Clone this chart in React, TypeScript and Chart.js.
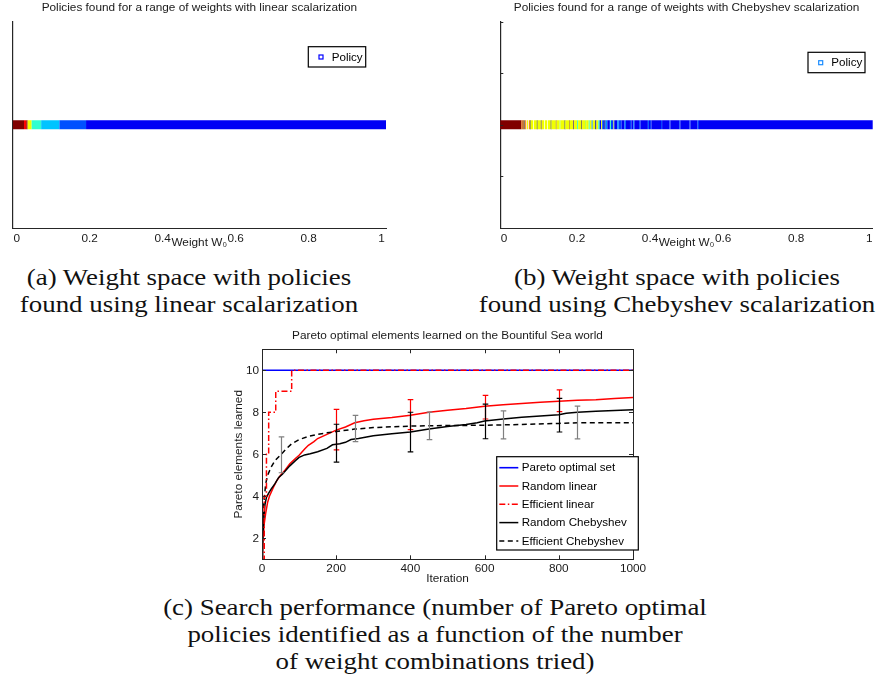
import React, { useEffect, useRef } from 'react';
import { Chart, registerables } from 'chart.js';

Chart.register(...registerables);

const SANS = '"Liberation Sans", Arial, Helvetica, sans-serif';
const SERIF = '"Liberation Serif", "Times New Roman", serif';
const AXIS = '#262626';
const TEXT = '#1a1a1a';
const FS = 11.8;

// ---------- (a) linear scalarization: policy bands along W0 ----------
const linearStarts = [-0.011, 0.02, 0.026, 0.03, 0.041, 0.067, 0.117, 0.19];
const linearEnd = 1.012;
const linearColors = ['#800000', '#ff0000', '#a00000', '#f0ff00', '#30ffd0', '#00c4ff', '#0050ff', '#0000f5'];

// ---------- (b) Chebyshev scalarization: policy bands along W0 ----------
const chebStarts = [
  -0.011, 0.048, 0.051, 0.054, 0.056, 0.058, 0.061, 0.063, 0.066, 0.068,
  0.071, 0.073, 0.08, 0.082, 0.09, 0.092, 0.101, 0.103, 0.11, 0.112,
  0.118, 0.12, 0.128, 0.13, 0.142, 0.144, 0.152, 0.155, 0.166, 0.168,
  0.178, 0.18, 0.19, 0.192, 0.2, 0.203, 0.212, 0.214, 0.222, 0.225,
  0.232, 0.235, 0.24, 0.243, 0.25, 0.253, 0.258, 0.262, 0.266, 0.269,
  0.275, 0.278, 0.283, 0.29, 0.293, 0.3, 0.302, 0.31, 0.314, 0.322,
  0.33, 0.334, 0.345, 0.349, 0.354, 0.357, 0.37, 0.374, 0.394, 0.397,
  0.4, 0.404, 0.43, 0.433, 0.453, 0.456, 0.48, 0.483, 0.508, 0.511,
  0.53, 0.534,
];
const chebEnd = 1.01;
const chebColors = [
  '#800000', '#ff8c00', '#800000', '#f0ff00', '#3c0a50', '#ff8c00', '#9a5a10', '#f0ff00', '#3c0a50', '#ff8c00',
  '#2a2a2a', '#f0ff00', '#9a5a10', '#f0ff00', '#2a2a2a', '#f0ff00', '#3c0a50', '#f0ff00', '#9a5a10', '#f0ff00',
  '#b4ff40', '#f0ff00', '#2a2a2a', '#f0ff00', '#9a5a10', '#f0ff00', '#b4ff40', '#f0ff00', '#2a2a2a', '#f0ff00',
  '#9a5a10', '#f0ff00', '#3c0a50', '#f0ff00', '#40ffc0', '#f0ff00', '#2a2a2a', '#f0ff00', '#b4ff40', '#f0ff00',
  '#40ffc0', '#f0ff00', '#0090ff', '#f0ff00', '#00008c', '#f0ff00', '#40ffc0', '#0000f5', '#f0ff00', '#0040ff',
  '#00008c', '#0090ff', '#0000f5', '#40ffc0', '#0040ff', '#f0ff00', '#0000f5', '#0090ff', '#0040ff', '#0000f5',
  '#0070ff', '#0000f5', '#0040ff', '#0000f5', '#0080ff', '#0000f5', '#0040ff', '#0000f5', '#0060ff', '#0000f5',
  '#0030ff', '#0000f5', '#0040ff', '#0000f5', '#0030ff', '#0000f5', '#0040ff', '#0000f5', '#0030ff', '#0000f5',
  '#0040ff', '#0000f5',
];

const weightTicks = [0, 0.2, 0.4, 0.6, 0.8, 1];
const bandYTicks = [-1, -0.5, 0, 0.5, 1];

// ---------- (c) search performance ----------
const iterTicks = [0, 200, 400, 600, 800, 1000];
const elemTicks = [2, 4, 6, 8, 10];

const paretoX = [0, 1000];
const paretoY = [10, 10];

const randLinX = [0, 3, 6, 10, 15, 20, 30, 40, 50, 60, 75, 90, 100, 115, 125, 140, 150, 175, 200, 225, 250, 275, 300, 350, 400, 450, 500, 550, 600, 650, 700, 750, 800, 850, 900, 950, 1000];
const randLinY = [1, 2, 2.7, 3.2, 3.7, 4.0, 4.4, 4.75, 5.0, 5.2, 5.55, 5.8, 5.95, 6.25, 6.43, 6.6, 6.75, 6.95, 7.15, 7.3, 7.5, 7.6, 7.67, 7.75, 7.86, 8.0, 8.1, 8.18, 8.29, 8.36, 8.42, 8.48, 8.53, 8.57, 8.6, 8.65, 8.7];

const effLinX = [0, 6, 12, 18, 37, 80, 1000];
const effLinY = [1, 4, 6, 8, 9, 10, 10];

const randChebX = [0, 2, 5, 8, 12, 18, 25, 35, 45, 55, 65, 75, 90, 100, 115, 130, 150, 175, 190, 210, 225, 240, 260, 300, 350, 400, 450, 500, 550, 580, 600, 650, 700, 750, 800, 820, 850, 900, 950, 1000];
const randChebY = [1, 2, 3, 3.6, 3.95, 4.15, 4.35, 4.6, 4.9, 5.05, 5.25, 5.45, 5.7, 5.85, 5.97, 6.03, 6.12, 6.28, 6.45, 6.5, 6.57, 6.7, 6.75, 6.88, 6.98, 7.06, 7.2, 7.32, 7.42, 7.5, 7.58, 7.68, 7.76, 7.82, 7.88, 7.95, 8.0, 8.05, 8.08, 8.12];

const effChebX = [0, 2, 5, 10, 15, 25, 35, 50, 65, 80, 100, 125, 150, 175, 200, 250, 300, 350, 400, 450, 500, 600, 700, 800, 850, 1000];
const effChebY = [1, 2.5, 3.7, 4.6, 5.0, 5.4, 5.7, 5.97, 6.25, 6.5, 6.7, 6.85, 6.95, 7.02, 7.08, 7.2, 7.27, 7.31, 7.34, 7.36, 7.37, 7.38, 7.42, 7.47, 7.5, 7.5];

const randLinErrX = [200, 400, 600, 800];
const randLinErrLow = [6.21, 7.17, 7.68, 8.03];
const randLinErrHigh = [8.14, 8.6, 8.8, 9.07];

const randChebErrX = [200, 400, 600, 800];
const randChebErrLow = [5.63, 6.11, 6.74, 7.06];
const randChebErrHigh = [7.43, 8.0, 8.39, 8.66];

const effChebErrX = [50, 250, 450, 650, 850];
const effChebErrLow = [5.12, 6.6, 6.7, 6.73, 6.73];
const effChebErrHigh = [6.83, 7.85, 8.01, 8.07, 8.29];

const captionA = ['(a) Weight space with policies', 'found using linear scalarization'];
const captionB = ['(b) Weight space with policies', 'found using Chebyshev scalarization'];
const captionC = [
  '(c) Search performance (number of Pareto optimal',
  'policies identified as a function of the number',
  'of weight combinations tried)',
];

const zip = (xs: number[], ys: number[]) => xs.map((x, i) => ({ x, y: ys[i] }));

// ---------- plugins ----------
const frameTicks = {
  id: 'frameTicks',
  afterDatasetsDraw(chart: any, _a: any, o: any) {
    if (!o || !o.enabled) return;
    const { ctx, chartArea: ca } = chart;
    ctx.save();
    ctx.strokeStyle = AXIS;
    ctx.lineWidth = 1;
    const len = o.length || 4;
    if (o.box) {
      ctx.strokeRect(Math.round(ca.left) + 0.5, Math.round(ca.top) + 0.5, Math.round(ca.right - ca.left), Math.round(ca.bottom - ca.top));
    }
    ctx.beginPath();
    if (o.xSides) {
      const sx = chart.scales.x;
      sx.ticks.forEach((t: any) => {
        const px = Math.round(sx.getPixelForValue(t.value)) + 0.5;
        if (o.xSides.includes('bottom')) { ctx.moveTo(px, ca.bottom); ctx.lineTo(px, ca.bottom - len); }
        if (o.xSides.includes('top')) { ctx.moveTo(px, ca.top); ctx.lineTo(px, ca.top + len); }
      });
    }
    if (o.ySides) {
      const sy = chart.scales.y;
      sy.ticks.forEach((t: any) => {
        const py = Math.round(sy.getPixelForValue(t.value)) + 0.5;
        if (o.ySides.includes('left')) { ctx.moveTo(ca.left, py); ctx.lineTo(ca.left + len, py); }
        if (o.ySides.includes('right')) { ctx.moveTo(ca.right, py); ctx.lineTo(ca.right - len, py); }
      });
    }
    ctx.stroke();
    ctx.restore();
  },
};

const errorBars = {
  id: 'errorBars',
  afterDatasetsDraw(chart: any) {
    const { ctx } = chart;
    const sx = chart.scales.x;
    const sy = chart.scales.y;
    chart.data.datasets.forEach((ds: any) => {
      const eb = ds.errorBars;
      if (!eb) return;
      ctx.save();
      ctx.strokeStyle = eb.color;
      ctx.lineWidth = 1.2;
      ctx.setLineDash([]);
      eb.x.forEach((xv: number, i: number) => {
        const px = Math.round(sx.getPixelForValue(xv)) + 0.5;
        const pl = sy.getPixelForValue(eb.low[i]);
        const ph = sy.getPixelForValue(eb.high[i]);
        const cap = 2.8;
        ctx.beginPath();
        ctx.moveTo(px, pl); ctx.lineTo(px, ph);
        ctx.moveTo(px - cap, pl); ctx.lineTo(px + cap, pl);
        ctx.moveTo(px - cap, ph); ctx.lineTo(px + cap, ph);
        ctx.stroke();
      });
      ctx.restore();
    });
  },
};

const boxLegend = {
  id: 'boxLegend',
  afterDraw(chart: any, _a: any, o: any) {
    if (!o || !o.box) return;
    const { ctx } = chart;
    const b = o.box;
    ctx.save();
    ctx.fillStyle = '#ffffff';
    ctx.fillRect(b.x, b.y, b.w, b.h);
    ctx.strokeStyle = '#000000';
    ctx.lineWidth = 1.2;
    ctx.setLineDash([]);
    ctx.strokeRect(b.x, b.y, b.w, b.h);
    ctx.font = `${o.fontSize}px ${SANS}`;
    ctx.textBaseline = 'middle';
    ctx.textAlign = 'left';
    const items = chart.data.datasets.filter((d: any) => d.label);
    items.forEach((d: any, i: number) => {
      const cy = b.y + o.firstRow + i * o.rowGap;
      if (o.marker === 'square') {
        ctx.strokeStyle = d.legendColor;
        ctx.lineWidth = 1.2;
        ctx.setLineDash([]);
        ctx.strokeRect(o.sampleX - 2, cy - 2, 4, 4);
      } else {
        ctx.strokeStyle = d.borderColor;
        ctx.lineWidth = d.borderWidth;
        ctx.setLineDash(d.borderDash || []);
        ctx.beginPath();
        ctx.moveTo(o.sampleX0, cy);
        ctx.lineTo(o.sampleX1, cy);
        ctx.stroke();
        ctx.setLineDash([]);
      }
      ctx.fillStyle = '#000000';
      ctx.fillText(d.label, o.textX, cy + 0.5);
    });
    ctx.restore();
  },
};

// ---------- configs ----------
function bandConfig(p: {
  title: string; starts: number[]; end: number; colors: string[]; legendColor: string;
  xMin: number; xMax: number; yWidth: number; padRight: number; showYTicks: boolean;
  legend: any;
}) {
  const edges = [...p.starts, p.end];
  const font = { family: SANS, size: FS, lineHeight: 1.2 };
  return {
    type: 'line',
    data: {
      datasets: [{
        label: 'Policy',
        data: edges.map((x) => ({ x, y: 0 })),
        borderColor: p.colors[p.colors.length - 1],
        borderWidth: 9,
        borderCapStyle: 'butt',
        pointRadius: 0,
        tension: 0,
        legendColor: p.legendColor,
        segment: { borderColor: (c: any) => p.colors[c.p0DataIndex] },
      }],
    },
    options: {
      animation: false,
      responsive: false,
      devicePixelRatio: 1,
      layout: { padding: { left: 0, right: p.padRight, top: 0, bottom: 0 } },
      plugins: {
        legend: { display: false },
        tooltip: { enabled: false },
        title: {
          display: true, text: p.title, fullSize: false, color: TEXT,
          font: { ...font, weight: 'normal' },
          padding: { top: 0.5, bottom: 7 },
        },
        frameTicks: { enabled: p.showYTicks, ySides: ['left'], length: 3 },
        boxLegend: p.legend,
      },
      scales: {
        x: {
          type: 'linear', min: p.xMin, max: p.xMax,
          afterBuildTicks: (s: any) => { s.ticks = weightTicks.map((v) => ({ value: v })); },
          afterFit: (s: any) => { s.height = 22; },
          ticks: { color: TEXT, font, padding: 3.5, autoSkip: false, maxRotation: 0, callback: (v: any) => String(v) },
          grid: { display: false, drawTicks: false },
          border: { display: true, color: AXIS, width: 1 },
          title: { display: true, text: 'Weight W\u2080', color: TEXT, font, padding: { top: 0, bottom: 0 } },
        },
        y: {
          type: 'linear', min: -1, max: 1,
          afterBuildTicks: (s: any) => { s.ticks = bandYTicks.map((v) => ({ value: v })); },
          afterFit: (s: any) => { s.width = p.yWidth; },
          ticks: { display: false },
          grid: { display: false, drawTicks: false },
          border: { display: true, color: AXIS, width: 1.2 },
        },
      },
    },
    plugins: [frameTicks, boxLegend],
  };
}

function perfConfig() {
  const font = { family: SANS, size: FS, lineHeight: 1.2 };
  return {
    type: 'line',
    data: {
      datasets: [
        { label: 'Pareto optimal set', data: zip(paretoX, paretoY), borderColor: '#0000ff', borderWidth: 1.6, pointRadius: 0, order: 5 },
        {
          label: 'Random linear', data: zip(randLinX, randLinY), borderColor: '#ff0000', borderWidth: 1.5, pointRadius: 0, order: 3,
          errorBars: { x: randLinErrX, low: randLinErrLow, high: randLinErrHigh, color: '#ff0000' },
        },
        { label: 'Efficient linear', data: zip(effLinX, effLinY), borderColor: '#ff0000', borderWidth: 1.5, borderDash: [6, 2.5, 1.5, 2.5], stepped: true, pointRadius: 0, order: 0 },
        {
          label: 'Random Chebyshev', data: zip(randChebX, randChebY), borderColor: '#000000', borderWidth: 1.5, pointRadius: 0, order: 2,
          errorBars: { x: randChebErrX, low: randChebErrLow, high: randChebErrHigh, color: '#000000' },
        },
        {
          label: 'Efficient Chebyshev', data: zip(effChebX, effChebY), borderColor: '#000000', borderWidth: 1.5, borderDash: [5, 3.5], pointRadius: 0, order: 1,
          errorBars: { x: effChebErrX, low: effChebErrLow, high: effChebErrHigh, color: '#808080' },
        },
      ],
    },
    options: {
      animation: false,
      responsive: false,
      devicePixelRatio: 1,
      layout: { padding: { left: 0, right: 27, top: 0, bottom: 0 } },
      plugins: {
        legend: { display: false },
        tooltip: { enabled: false },
        title: {
          display: true, text: 'Pareto optimal elements learned on the Bountiful Sea world', fullSize: false, color: TEXT,
          font: { ...font, weight: 'normal' }, padding: { top: 8.6, bottom: 6.5 },
        },
        frameTicks: { enabled: true, box: true, xSides: ['bottom', 'top'], ySides: ['left', 'right'], length: 4 },
        boxLegend: {
          box: { x: 296.7, y: 136.7, w: 141.6, h: 93.3 },
          fontSize: 11.6, firstRow: 11, rowGap: 18.3, sampleX0: 299.3, sampleX1: 318.3, textX: 321.7,
        },
      },
      scales: {
        x: {
          type: 'linear', min: 0, max: 1000,
          afterBuildTicks: (s: any) => { s.ticks = iterTicks.map((v) => ({ value: v })); },
          afterFit: (s: any) => { s.height = 30.7; },
          ticks: { color: TEXT, font, padding: 2.8, autoSkip: false, maxRotation: 0, callback: (v: any) => String(v) },
          grid: { display: false, drawTicks: false },
          border: { display: true, color: AXIS, width: 1 },
          title: { display: true, text: 'Iteration', color: TEXT, font, padding: { top: 0, bottom: 4.6 } },
        },
        y: {
          type: 'linear', min: 1, max: 11,
          afterBuildTicks: (s: any) => { s.ticks = elemTicks.map((v) => ({ value: v })); },
          afterFit: (s: any) => { s.width = 62; },
          ticks: { color: TEXT, font, padding: 3, autoSkip: false, callback: (v: any) => String(v) },
          grid: { display: false, drawTicks: false },
          border: { display: true, color: AXIS, width: 1 },
          title: { display: true, text: 'Pareto elements learned', color: TEXT, font, padding: { top: 31.2, bottom: 0 } },
        },
      },
    },
    plugins: [errorBars, frameTicks, boxLegend],
  };
}

function ChartBox({ make, left, top, width, height }: { make: () => any; left: number; top: number; width: number; height: number }) {
  const ref = useRef<HTMLCanvasElement>(null);
  useEffect(() => {
    const chart = new Chart(ref.current as HTMLCanvasElement, make());
    return () => chart.destroy();
  }, []);
  return (
    <canvas
      ref={ref}
      width={width}
      height={height}
      style={{ position: 'absolute', left, top, width, height, display: 'block' }}
    />
  );
}

const CAP_SIZE = 23.2;
const CAP_STRETCH = 1.16;

function CaptionLine({ text, cx, baseline }: { text: string; cx: number; baseline: number }) {
  return (
    <div
      style={{
        position: 'absolute',
        left: cx - 320,
        width: 640,
        top: baseline - CAP_SIZE * 0.8375,
        height: CAP_SIZE,
        lineHeight: `${CAP_SIZE}px`,
        fontSize: CAP_SIZE,
        fontFamily: SERIF,
        textAlign: 'center',
        whiteSpace: 'nowrap',
        color: '#111111',
        transform: `scaleX(${CAP_STRETCH})`,
        transformOrigin: '50% 50%',
      }}
    >
      {text}
    </div>
  );
}

export default function App() {
  return (
    <div style={{ position: 'absolute', left: 0, top: 0, width: 876, height: 679, background: '#ffffff', overflow: 'hidden' }}>
      <ChartBox
        left={0} top={0} width={438} height={250}
        make={() => bandConfig({
          title: 'Policies found for a range of weights with linear scalarization',
          starts: linearStarts, end: linearEnd, colors: linearColors, legendColor: '#0000ff',
          xMin: -0.011, xMax: 1.012, yWidth: 12.7, padRight: 52, showYTicks: false,
          legend: { box: { x: 308.3, y: 46.7, w: 57.4, h: 20.3 }, fontSize: 11.6, firstRow: 10.3, rowGap: 18, marker: 'square', sampleX: 321, textX: 331.7 },
        })}
      />
      <ChartBox
        left={438} top={0} width={438} height={250}
        make={() => bandConfig({
          title: 'Policies found for a range of weights with Chebyshev scalarization',
          starts: chebStarts, end: chebEnd, colors: chebColors, legendColor: '#1a8cff',
          xMin: -0.0101, xMax: 1.01, yWidth: 62.3, padRight: 2.6, showYTicks: true,
          legend: { box: { x: 370, y: 52.3, w: 57, h: 20.4 }, fontSize: 11.6, firstRow: 10.4, rowGap: 18, marker: 'square', sampleX: 382.7, textX: 393.3 },
        })}
      />
      <ChartBox left={200} top={320} width={460} height={270} make={perfConfig} />
      {captionA.map((t, i) => <CaptionLine key={'a' + i} text={t} cx={189} baseline={285 + i * 27} />)}
      {captionB.map((t, i) => <CaptionLine key={'b' + i} text={t} cx={677} baseline={285 + i * 27} />)}
      {captionC.map((t, i) => <CaptionLine key={'c' + i} text={t} cx={435} baseline={615 + i * 27} />)}
    </div>
  );
}
